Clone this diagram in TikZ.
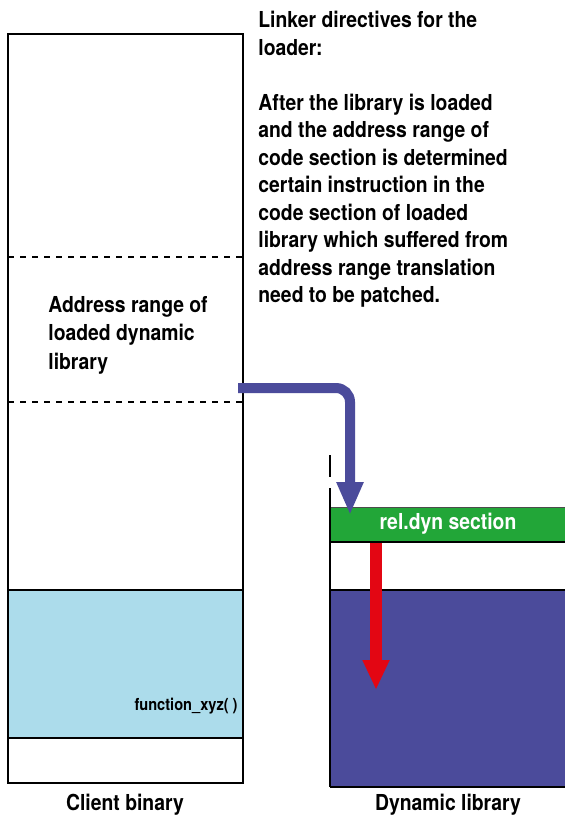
\documentclass[tikz,border=0pt]{standalone}
\usepackage{fontspec}
\setmainfont{TeX Gyre Heros}[FakeStretch=0.88,UprightFont=*-Bold]
\usetikzlibrary{arrows.meta,positioning}
\definecolor{clientblue}{RGB}{172,220,235}
\definecolor{libpurple}{RGB}{75,75,155}
\definecolor{relgreen}{RGB}{34,166,56}
\definecolor{relred}{RGB}{227,6,19}

\begin{document}
\begin{tikzpicture}[x=0.5pt,y=-0.5pt,
    border/.style={line width=0.8pt},
    memtext/.style={inner sep=0pt,align=left,font=\fontsize{11}{13.75}\selectfont},
    caption/.style={inner sep=0pt,font=\fontsize{11}{13.75}\selectfont}]
    \useasboundingbox (0,0) rectangle (565,818);
    % client binary
    \fill[clientblue] (8,590) rectangle (243,738);
    \draw[border] (8,34) rectangle (243,783);
    \draw[border] (8,590)--(243,590);
    \draw[border] (8,738)--(243,738);
    \draw[border,dashed] (8,257)--(243,257);
    \draw[border,dashed] (8,402)--(243,402);
    \node[memtext,anchor=north west,font=\fontsize{11}{14.25}\selectfont]
        (range) at (48,296) {Address range of\\loaded dynamic\\library};
    \node[inner sep=0pt,anchor=base east,font=\fontsize{8.3}{10}\selectfont]
        (func) at (238,710) {function\_xyz( )};
    \node[caption] (clientlbl) at (125,805) {Client binary};
    % dynamic library
    \fill[libpurple] (330,590) rectangle (565,787);
    \fill[relgreen] (330,507) rectangle (565,542);
    \draw[line width=0.5pt,black!70] (330,507)--(565,507);
    \draw[border] (330,542)--(565,542);
    \draw[border] (330,590)--(565,590);
    \draw[border] (330,787)--(565,787);
    \draw[border] (330,488)--(330,787);
    \draw[border] (330,455)--(330,477);
    \node[caption,text=white] (reldyn) at (448,524) {rel.dyn section};
    \node[caption] (liblbl) at (448,805) {Dynamic library};
    % linker directives
    \node[memtext,anchor=north west] (directives) at (258,11)
        {Linker directives for the\\loader:\\[13.75pt]
         After the library is loaded\\and the address range of\\
         code section is determined\\certain instruction in the\\
         code section of loaded\\library which suffered from\\
         address range translation\\need to be patched.};
    % arrows
    \coordinate (out) at (238,388);
    \coordinate (relin) at (350,515);
    \coordinate (relout) at (376,543);
    \coordinate (patch) at (376,690);
    \draw[libpurple,line width=5pt,rounded corners=7pt,
        -{Triangle[length=16.5pt,width=12.5pt]}] (out) -| (relin);
    \draw[relred,line width=6pt,-{Triangle[length=15pt,width=12.5pt]}]
        (relout) -- (patch);
\end{tikzpicture}
\end{document}
